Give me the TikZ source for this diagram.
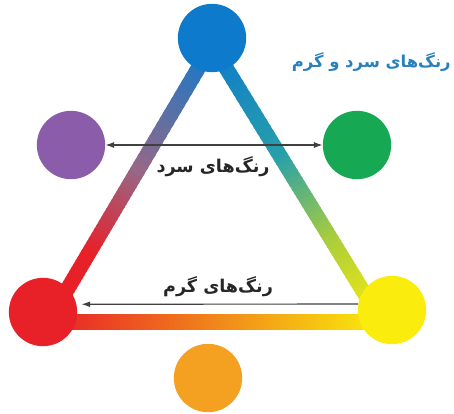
\documentclass[tikz,border=0pt]{standalone}
\usepackage{fontspec}
\usepackage{xcolor}
\usetikzlibrary{arrows.meta,calc}
\TeXXeTstate=1
\newfontfamily\farsifont[Script=Arabic]{DejaVu Sans}
\definecolor{cblue}{RGB}{14,122,204}
\definecolor{cpurple}{RGB}{138,92,170}
\definecolor{cgreen}{RGB}{22,168,82}
\definecolor{cred}{RGB}{232,32,40}
\definecolor{cyellow}{RGB}{250,236,12}
\definecolor{corange}{RGB}{244,160,32}
\definecolor{cmauve}{RGB}{150,104,136}
\definecolor{cteal}{RGB}{40,160,170}
\definecolor{clime}{RGB}{170,205,60}
\definecolor{ctitle}{RGB}{40,128,190}
\tikzset{
  blob/.style={circle, inner sep=0pt, minimum size=2.05cm},
  bar/.style={line width=0.45cm, line cap=butt},
  arrow/.style={-{Latex[length=2.6mm,width=1.8mm]}, line width=1pt, draw=black!75},
  twoarrow/.style={{Latex[length=2.6mm,width=1.8mm]}-{Latex[length=2.6mm,width=1.8mm]}, line width=1pt, draw=black!75},
  farsilabel/.style={font=\farsifont\bfseries\fontsize{15}{17}\selectfont, text=black!85, inner sep=1pt},
  titletext/.style={font=\farsifont\bfseries\fontsize{14}{16}\selectfont, text=ctitle, inner sep=1pt}
}
% gradient bar: from, to, start fraction, end fraction, start colour, end colour
\newcommand{\gradbar}[6]{%
  \foreach \i in {1,...,20}{%
    \pgfmathsetmacro{\sa}{#3+(#4-#3)*(\i-1)/20}%
    \pgfmathsetmacro{\sb}{#3+(#4-#3)*(\i+0.5)/20}%
    \pgfmathsetmacro{\p}{100*(\i-0.5)/20}%
    \draw[bar, draw=#6!\p!#5] ($(#1)!\sa!(#2)$) -- ($(#1)!\sb!(#2)$);
  }}
\begin{document}
\begin{tikzpicture}[x=0.03cm,y=-0.03cm]
\useasboundingbox (0,0) rectangle (454,413);

\coordinate (top) at (212,45);
\coordinate (left) at (48,322);
\coordinate (right) at (382,322);

% triangle
\gradbar{top}{left}{0}{0.45}{cblue}{cmauve}
\gradbar{top}{left}{0.45}{0.75}{cmauve}{cred}
\gradbar{top}{left}{0.75}{1}{cred}{cred}
\gradbar{top}{right}{0}{0.4}{cblue}{cteal}
\gradbar{top}{right}{0.4}{0.7}{cteal}{clime}
\gradbar{top}{right}{0.7}{1}{clime}{cyellow}
\shade[left color=cred, middle color=corange, right color=cyellow]
  ($(left)+(0,-7.5)$) rectangle ($(right)+(0,7.5)$);

\node[blob, fill=cblue] (blue) at (212,38) {};
\node[blob, fill=cpurple] (purple) at (71,145) {};
\node[blob, fill=cgreen] (green) at (357,145) {};
\node[blob, fill=cred] (red) at (43,312) {};
\node[blob, fill=cyellow] (yellow) at (392,310) {};
\node[blob, fill=corange] (orange) at (208,378) {};

\draw[twoarrow] (purple.east) -- (green.west);
\node[farsilabel] (coldlbl) at (213,167) {\beginR رنگ^^^^200cهای سرد\endR};

\draw[arrow, shorten >=0.15cm] (yellow.170) -- (red.13);
\node[farsilabel] (warmlbl) at (218,287) {\beginR رنگ^^^^200cهای گرم\endR};

\node[titletext, anchor=east] (title) at (452,62) {\beginR رنگ^^^^200cهای سرد و گرم\endR};
\end{tikzpicture}
\end{document}
